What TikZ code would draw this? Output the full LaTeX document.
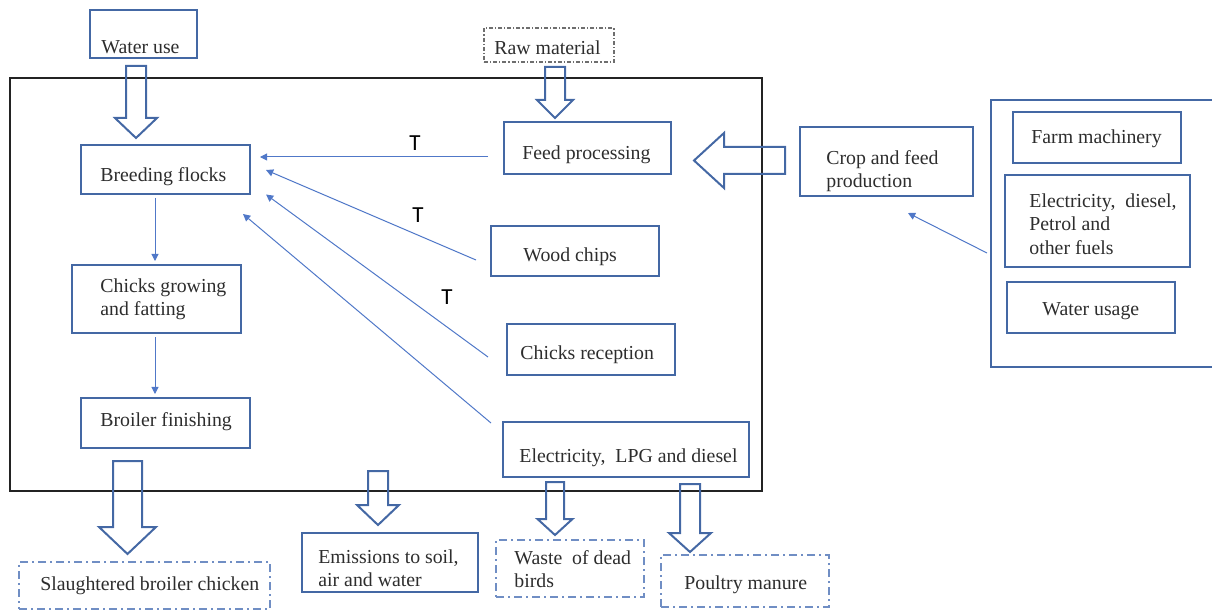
\documentclass[tikz,border=0pt]{standalone}
\usepackage{fontspec}
\setmainfont{Liberation Serif}
\newfontfamily\labelfont{Carlito}
\usetikzlibrary{arrows.meta,fit,calc}
\definecolor{boxline}{RGB}{68,104,164}
\definecolor{flowline}{RGB}{80,120,200}
\definecolor{dashline}{RGB}{112,142,196}
\definecolor{rawline}{RGB}{110,110,110}
\definecolor{frameline}{RGB}{35,35,35}
\definecolor{inktext}{RGB}{45,45,45}
% hollow block arrow pointing down: x centre, top, head start, tip, shaft half width, head half width
\newcommand\downblock[6]{%
  \draw[bigarrow] (#1-#5,#2) -- (#1+#5,#2) -- (#1+#5,#3) -- (#1+#6,#3) -- (#1,#4)
    -- (#1-#6,#3) -- (#1-#5,#3) -- cycle;}
\begin{document}
\begin{tikzpicture}[x=0.5pt,y=-0.5pt,
  box/.style={draw=boxline, line width=1pt, inner sep=0pt},
  dashbox/.style={draw=dashline, line width=1pt, inner sep=0pt,
    dash pattern=on 4pt off 2pt on 1pt off 2pt},
  rawbox/.style={draw=rawline, line width=0.6pt, inner sep=0pt,
    dash pattern=on 2pt off 1pt on 0.6pt off 1pt},
  txt/.style={anchor=west, inner sep=0pt, align=left, text=inktext, yshift=-1.2pt,
    font=\fontsize{9.9}{11.6}\selectfont},
  flow/.style={draw=flowline, line width=0.5pt, -{Triangle[width=3.6pt,length=3.6pt]}},
  tag/.style={inner sep=0pt, text=black, font=\labelfont\fontsize{11.5}{13}\selectfont},
  bigarrow/.style={draw=boxline, line width=1pt, line join=miter}]
\useasboundingbox (0,0) rectangle (1212,610);

% system boundary
\draw[frameline, line width=1pt] (10,78) rectangle (762,491);

% inputs above the boundary
\node[box, fit={(90,10) (197,58)}] (water) {};
\node[txt] at (101,45) {Water use};
\node[rawbox, fit={(484,28) (614,62)}] (raw) {};
\node[txt] at (494,45) {Raw material};

% main chain
\node[box, fit={(81,145) (250,194)}] (bf) {};
\node[txt] at (100,174) {Breeding flocks};
\node[box, fit={(72,265) (241,333)}] (cg) {};
\node[txt] at (100,296.5) {Chicks growing\\and fatting};
\node[box, fit={(81,398) (250,448)}] (brf) {};
\node[txt] at (100,419) {Broiler finishing};

% supporting processes
\node[box, fit={(504,122) (671,174)}] (fp) {};
\node[txt] at (522,152) {Feed processing};
\node[box, fit={(491,226) (659,276)}] (wc) {};
\node[txt] at (523,254) {Wood chips};
\node[box, fit={(507,324) (675,375)}] (cr) {};
\node[txt] at (520,352) {Chicks reception};
\node[box, fit={(503,422) (749,477)}] (el) {};
\node[txt] at (519,455) {Electricity,\ \ LPG and diesel};

% upstream production
\node[box, fit={(800,127) (973,196)}] (crop) {};
\node[txt] at (826,169) {Crop and feed\\production};
\node[box, fit={(991,100) (1224,367)}] (panel) {};
\node[box, fit={(1013,112) (1181,163)}] (fm) {};
\node[txt] at (1031,136) {Farm machinery};
\node[box, fit={(1005,175) (1190,267)}] (ed) {};
\node[txt, font=\fontsize{9.9}{11.75}\selectfont] at (1029,221.5) {Electricity,\ \ diesel,\\Petrol and\\other fuels};
\node[box, fit={(1007,282) (1175,333)}] (wu) {};
\node[txt] at (1042,309) {Water usage};

% outputs
\node[dashbox, fit={(19,562) (270,609)}] (sl) {};
\node[txt] at (40,583) {Slaughtered broiler chicken};
\node[box, fit={(302,533) (478,592)}] (em) {};
\node[txt] at (318,565.5) {Emissions to soil,\\air and water};
\node[dashbox, fit={(496,540) (644,597)}] (wd) {};
\node[txt] at (514,566.5) {Waste\ \ of dead\\birds};
\node[dashbox, fit={(661,555) (829,607)}] (pm) {};
\node[txt] at (684,582) {Poultry manure};

% thin flow arrows
\draw[flow] ($(bf.south)+(-10.5,3)$) -- ($(cg.north)+(-1.5,-3)$);
\draw[flow] ($(cg.south)+(-1.5,3)$) -- ($(brf.north)+(-10.5,-3)$);
\draw[flow] ($(fp.west)+(-15,9)$) -- ($(bf.east)+(9,-12.5)$);
\draw[flow] ($(wc.west)+(-14,9)$) -- ($(bf.east)+(15,0.5)$);
\draw[flow] ($(cr.west)+(-18,7.5)$) -- ($(bf.east)+(15,25)$);
\draw[flow] ($(el.west)+(-11,-26.5)$) -- ($(bf.south east)+(-8,19)$);
\draw[flow] ($(panel.west)+(-3,19.5)$) -- ($(crop.south)+(21.5,16)$);

% transport marks
\node[tag] at (415,143) {T};
\node[tag] at (418,215) {T};
\node[tag] at (447,297) {T};

% block arrows
\downblock{136}{66}{118}{138}{10}{21}
\downblock{555}{67}{100}{118}{10}{18}
\downblock{127.5}{461}{527}{554}{14.5}{28.5}
\downblock{378}{471}{505}{525}{10}{21}
\downblock{555}{482}{519}{535}{9}{17.5}
\downblock{690}{484}{533}{552}{10}{21}
\draw[bigarrow] (785,147) -- (724,147) -- (724,133) -- (694,160.5) -- (724,188)
  -- (724,174) -- (785,174) -- cycle;
\end{tikzpicture}
\end{document}
